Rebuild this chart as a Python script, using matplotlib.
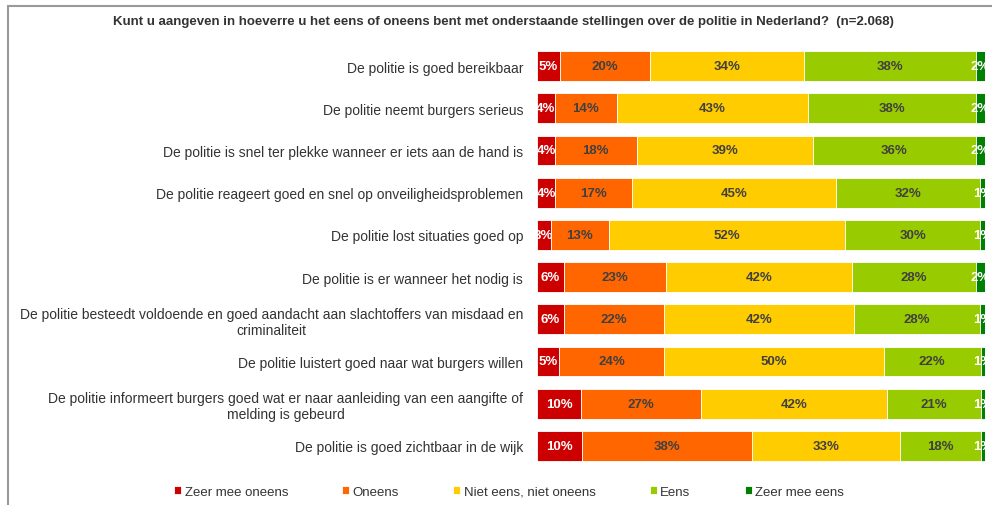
import numpy as np
import matplotlib.pyplot as plt
from matplotlib.patches import Rectangle

plt.rcParams['font.family'] = ['Liberation Sans', 'DejaVu Sans']

stellingen = [
    "De politie is goed bereikbaar",
    "De politie neemt burgers serieus",
    "De politie is snel ter plekke wanneer er iets aan de hand is",
    "De politie reageert goed en snel op onveiligheidsproblemen",
    "De politie lost situaties goed op",
    "De politie is er wanneer het nodig is",
    "De politie besteedt voldoende en goed aandacht aan slachtoffers van misdaad en\ncriminaliteit",
    "De politie luistert goed naar wat burgers willen",
    "De politie informeert burgers goed wat er naar aanleiding van een aangifte of\nmelding is gebeurd",
    "De politie is goed zichtbaar in de wijk",
]
categorieen = ["Zeer mee oneens", "Oneens", "Niet eens, niet oneens", "Eens", "Zeer mee eens"]

zeer_oneens = [5, 4, 4, 4, 3, 6, 6, 5, 10, 10]
oneens = [20, 14, 18, 17, 13, 23, 22, 24, 27, 38]
neutraal = [34, 43, 39, 45, 52, 42, 42, 50, 42, 33]
eens = [38, 38, 36, 32, 30, 28, 28, 22, 21, 18]
zeer_eens = [2, 2, 2, 1, 1, 2, 1, 1, 1, 1]

kleuren = ['#CC0000', '#FF6600', '#FFCC00', '#99CC00', '#008000']
tekstkleur = ['white', '#404040', '#404040', '#404040', 'white']

data = np.array([zeer_oneens, oneens, neutraal, eens, zeer_eens], dtype=float)
# 100% gestapeld, zoals in Excel
aandeel = data / data.sum(axis=0) * 100

fig = plt.figure(figsize=(9.92, 5.06), dpi=100)
W, H = 992, 506
ax = fig.add_axes([537 / W, 1 - 468 / H, (985 - 537) / W, (468 - 46) / H])

y = np.arange(len(stellingen))
links = np.zeros(len(stellingen))
for i in range(5):
    ax.barh(y, aandeel[i], left=links, height=0.71, color=kleuren[i],
            edgecolor='white', linewidth=0.6, label=categorieen[i])
    for j in range(len(stellingen)):
        ax.text(links[j] + aandeel[i, j] / 2, y[j], f"{data[i, j]:.0f}%",
                ha='center', va='center', fontsize=9.5, fontweight='bold',
                color=tekstkleur[i], clip_on=True)
    links += aandeel[i]

ax.set_xlim(0, 100)
ax.set_ylim(len(stellingen) - 0.5, -0.5)
ax.set_yticks(y)
ax.set_yticklabels(stellingen, fontsize=10, color='#333333', multialignment='center')
ax.tick_params(axis='y', length=0, pad=10)
ax.set_xticks([])
for s in ax.spines.values():
    s.set_visible(False)

fig.text(503 / W, 1 - 22 / H,
         "Kunt u aangeven in hoeverre u het eens of oneens bent met onderstaande "
         "stellingen over de politie in Nederland?  (n=2.068)",
         ha='center', va='center', fontsize=9.5, fontweight='bold', color='#333333')

leg = fig.legend(loc='center', bbox_to_anchor=(509 / W, 1 - 493 / H), ncol=5,
                 frameon=False, fontsize=9.5, handlelength=0.55, handleheight=0.55,
                 handletextpad=0.25, columnspacing=4.1)
for t in leg.get_texts():
    t.set_color('#333333')

# kader rond de figuur
fig.patches.append(Rectangle((8 / W, -0.1), 1.2, 1 - 7 / H + 0.1,
                             transform=fig.transFigure, fill=False,
                             edgecolor='#999999', linewidth=1.5))

fig.savefig('out.png', dpi=100)
